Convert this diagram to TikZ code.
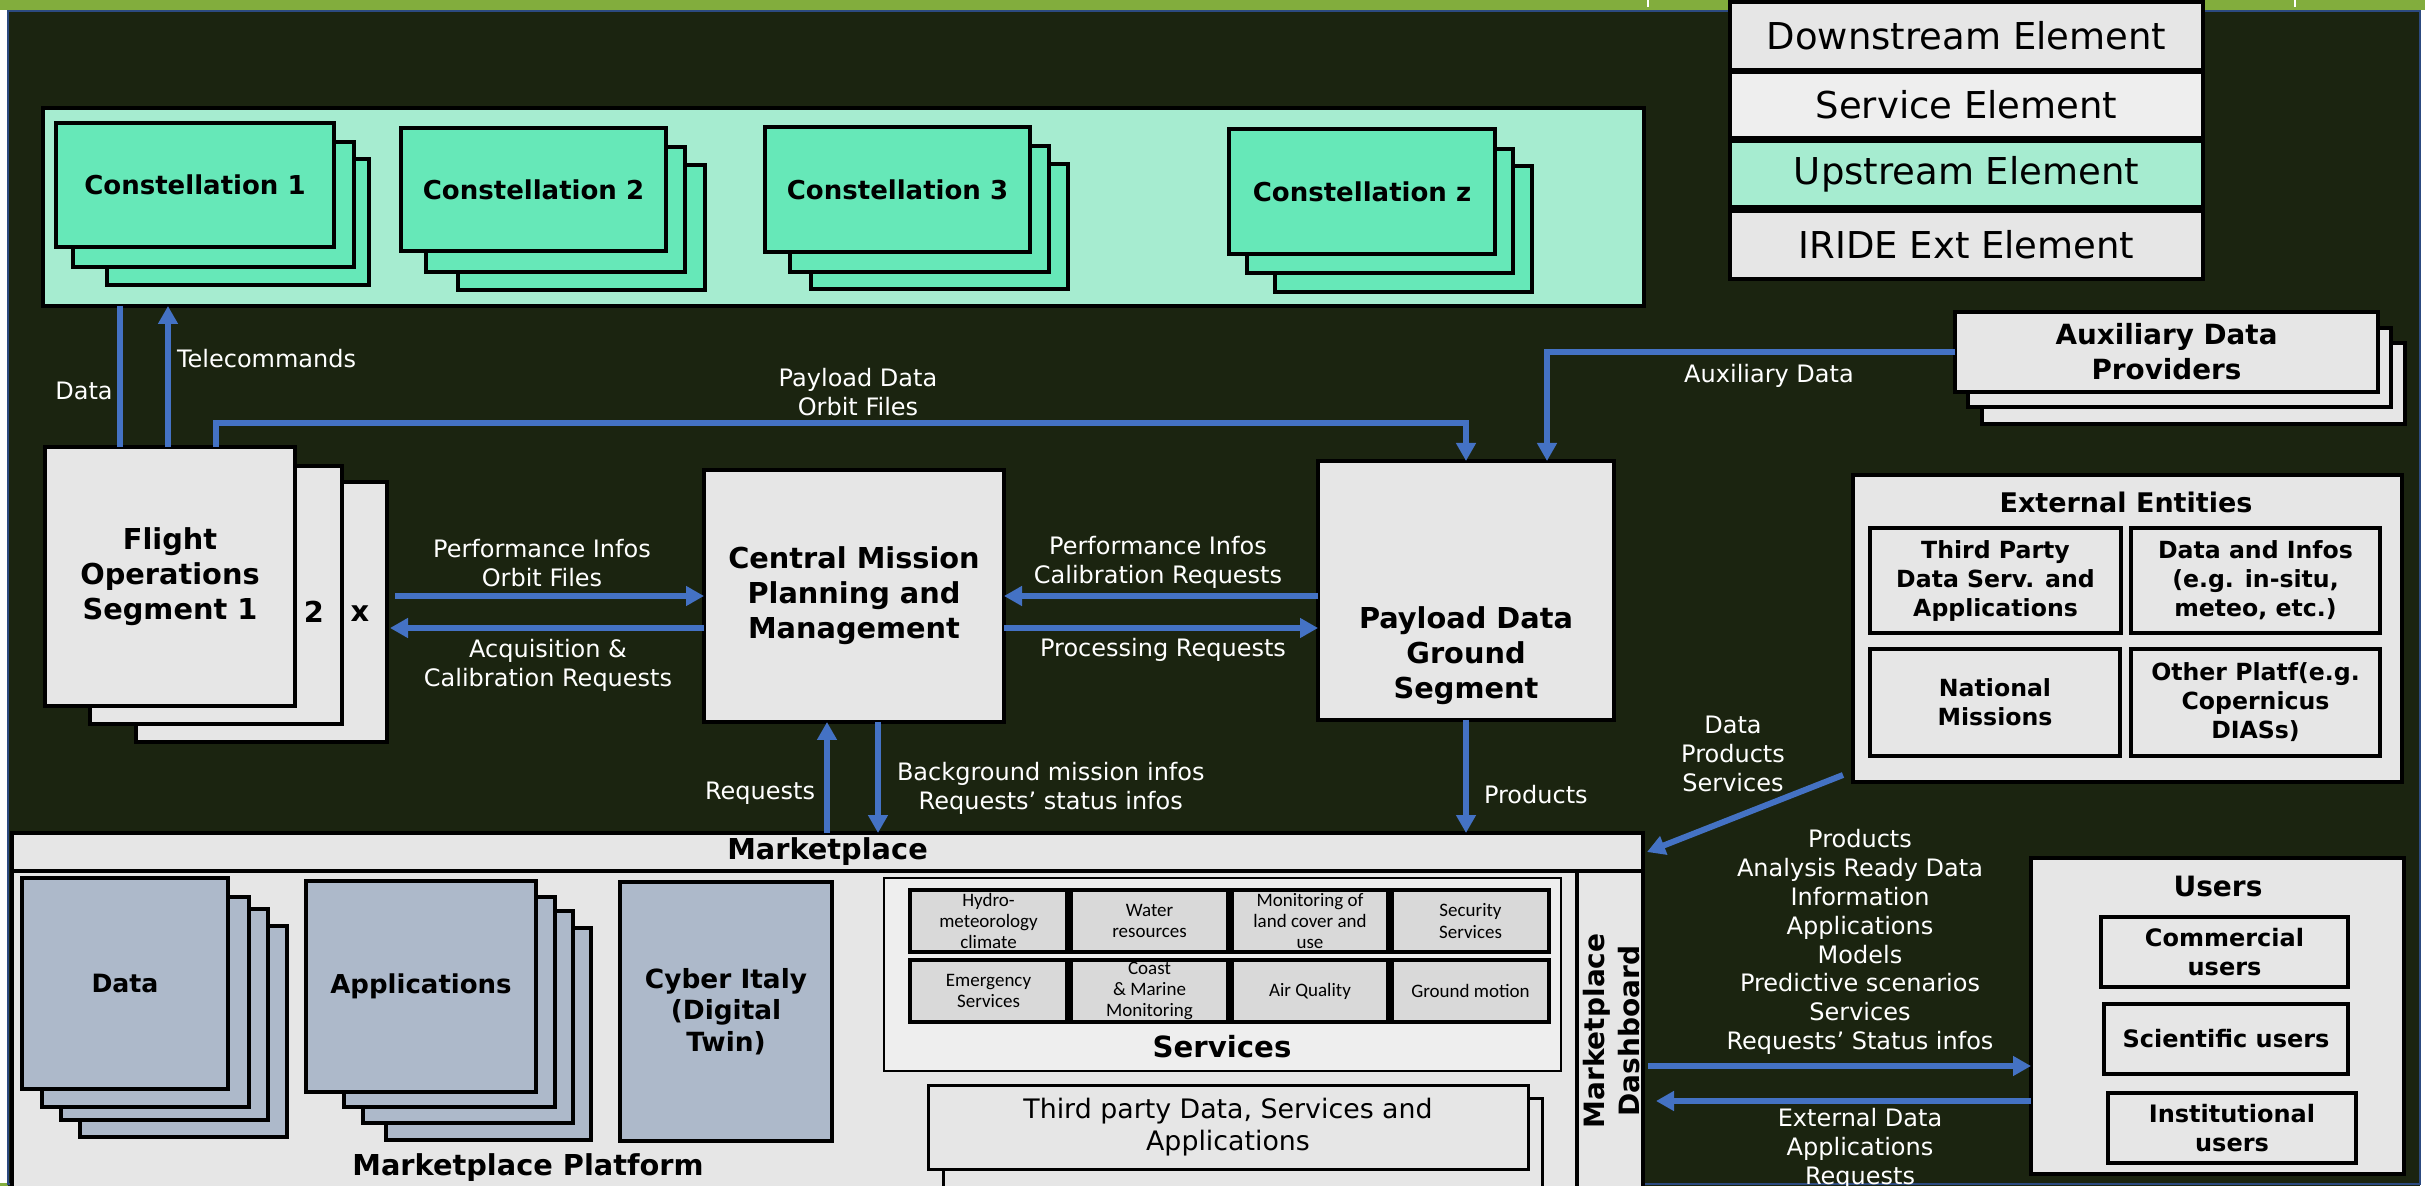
\documentclass[tikz,border=0pt]{standalone}
\usepackage{fontspec}
\setmainfont{DejaVu Sans}
\newfontfamily\cellfont{Carlito}
\usetikzlibrary{arrows.meta,calc}

\definecolor{bgdark}{HTML}{1B2410}
\definecolor{barGreen}{HTML}{82AD3D}
\definecolor{frameBlue}{HTML}{2C4A80}
\definecolor{boxGray}{HTML}{E6E6E6}
\definecolor{svcGray}{HTML}{EEEEEE}
\definecolor{cellGray}{HTML}{D9D9D9}
\definecolor{mintLight}{HTML}{A6ECD0}
\definecolor{mintBox}{HTML}{66E8B8}
\definecolor{slateBox}{HTML}{ADB9CA}
\definecolor{flowBlue}{HTML}{4472C4}

\newcommand\fsz[2]{\fontsize{#1}{#2}\selectfont}
% rectangle node spanning corner (x1,y1) to corner (x2,y2), pixel units
\newcommand\spanbox[6]{\node[#1, minimum width={(#5-#3)*0.5pt}, minimum height={(#6-#4)*0.5pt}] (#2) at ({(#3+#5)/2},{(#4+#6)/2})}

\begin{document}
\begin{tikzpicture}[x=0.5pt,y=-0.5pt,
  every node/.style={inner sep=0pt, outer sep=0pt, align=center},
  boxline/.style={draw=black, line width=1.7pt},
  graybox/.style={boxline, fill=boxGray},
  mintpage/.style={boxline, fill=mintBox, font=\bfseries\fsz{13}{16}},
  slatepage/.style={boxline, fill=slateBox},
  cell/.style={draw=black, line width=1.6pt, fill=cellGray, font=\cellfont\fsz{9.5}{10.6}},
  legendrow/.style={draw=black, line width=2pt, font=\fsz{18.5}{22}},
  boldtxt/.style={font=\bfseries\fsz{14.4}{17.5}},
  flowlabel/.style={text=white, font=\fsz{12}{14.4}},
  flow/.style={draw=flowBlue, line width=3pt, -{Triangle[length=9pt,width=9.5pt]}},
  flowplain/.style={draw=flowBlue, line width=3pt}]

\useasboundingbox (0,0) rectangle (2425,1186);
\clip (0,0) rectangle (2425,1186);

% page background, header bar and frame
\fill[white] (0,0) rectangle (2425,1186);
\fill[bgdark] (8,11) rectangle (2420,1186);
\fill[barGreen] (0,0) rectangle (2425,10);
\fill[barGreen] (0,1183) rectangle (8,1186);
\draw[white, line width=0.8pt] (1648,0) -- (1648,7);
\draw[white, line width=0.8pt] (2295,0) -- (2295,7);
\draw[frameBlue, line width=1.2pt] (8,11) rectangle (2420,1184);

% legend
\spanbox{legendrow, fill=boxGray}{lgDown}{1730}{2}{2203}{70}{Downstream Element};
\spanbox{legendrow, fill=svcGray}{lgServ}{1730}{72}{2203}{138}{Service Element};
\spanbox{legendrow, fill=mintLight}{lgUp}{1730}{141}{2203}{207}{Upstream Element};
\spanbox{legendrow, fill=boxGray}{lgExt}{1730}{211}{2203}{279}{IRIDE Ext Element};

% upstream: constellations
\spanbox{boxline, fill=mintLight, line width=2pt}{constel}{43}{108}{1644}{306}{};
\spanbox{mintpage}{c1c}{107}{159}{369}{285}{};
\spanbox{mintpage}{c1b}{73}{142}{354}{267}{};
\spanbox{mintpage}{c1a}{56}{123}{334}{247}{Constellation 1};
\spanbox{mintpage}{c2c}{458}{165}{705}{290}{};
\spanbox{mintpage}{c2b}{426}{147}{685}{272}{};
\spanbox{mintpage}{c2a}{401}{128}{666}{251}{Constellation 2};
\spanbox{mintpage}{c3c}{811}{164}{1068}{289}{};
\spanbox{mintpage}{c3b}{790}{146}{1049}{272}{};
\spanbox{mintpage}{c3a}{765}{127}{1030}{252}{Constellation 3};
\spanbox{mintpage}{czc}{1275}{166}{1532}{292}{};
\spanbox{mintpage}{czb}{1247}{149}{1513}{273}{};
\spanbox{mintpage}{cza}{1229}{129}{1495}{254}{Constellation z};

% flight operations segments
\spanbox{graybox}{fos3}{136}{482}{387}{742}{};
\spanbox{graybox}{fos2}{90}{466}{342}{724}{};
\spanbox{graybox, boldtxt}{fos1}{45}{447}{295}{706}{Flight\\Operations\\Segment 1};
\node[boldtxt] (fosTwo) at (314,612) {2};
\node[boldtxt] (fosX) at (360,614) {x};

% central mission planning and payload ground segment
\spanbox{graybox, boldtxt}{cmp}{704}{470}{1004}{722}{Central Mission\\Planning and\\Management};
\spanbox{graybox}{pdgs}{1318}{461}{1614}{720}{};
\node[boldtxt] (pdgsText) at (1466,656) {Payload Data\\Ground\\Segment};

% auxiliary data providers
\spanbox{graybox}{auxC}{1982}{343}{2405}{424}{};
\spanbox{graybox}{auxB}{1968}{328}{2391}{407}{};
\spanbox{graybox, font=\bfseries\fsz{13.9}{17.5}}{auxA}{1955}{312}{2378}{392}{Auxiliary Data\\Providers};

% external entities
\spanbox{graybox}{ext}{1853}{475}{2402}{782}{};
\node[font=\bfseries\fsz{13.5}{16}] (extTitle) at (2126,502) {External Entities};
\spanbox{graybox, font=\bfseries\fsz{11.8}{14.5}}{extTL}{1870}{528}{2121}{633}{Third Party\\Data Serv. and\\Applications};
\spanbox{graybox, font=\bfseries\fsz{11.8}{14.5}}{extTR}{2131}{528}{2380}{633}{Data and Infos\\(e.g. in-situ,\\meteo, etc.)};
\spanbox{graybox, font=\bfseries\fsz{11.8}{14.5}}{extBL}{1870}{649}{2120}{756}{National\\Missions};
\spanbox{graybox, font=\bfseries\fsz{11.8}{14.5}}{extBR}{2131}{649}{2380}{756}{Other Platf(e.g.\\Copernicus\\DIASs)};

% users
\spanbox{graybox}{users}{2031}{858}{2404}{1174}{};
\node[font=\bfseries\fsz{14}{17}] (usersTitle) at (2218,886) {Users};
\spanbox{graybox, font=\bfseries\fsz{12}{14.5}}{uCom}{2101}{917}{2348}{987}{Commercial\\users};
\spanbox{graybox, font=\bfseries\fsz{12}{14.5}}{uSci}{2104}{1004}{2348}{1074}{Scientific users};
\spanbox{graybox, font=\bfseries\fsz{12}{14.5}}{uIns}{2108}{1093}{2356}{1163}{Institutional\\users};

% marketplace
\spanbox{graybox, boldtxt}{mkt}{12}{833}{1643}{871}{Marketplace};
\spanbox{graybox}{platform}{12}{871}{1577}{1210}{};
\spanbox{graybox}{dash}{1577}{871}{1643}{1210}{};
\node[rotate=90, font=\bfseries\fsz{14}{17.5}] (dashText) at (1612,1031) {Marketplace\\Dashboard};

% data and applications stacks
\spanbox{slatepage}{data4}{80}{926}{287}{1137}{};
\spanbox{slatepage}{data3}{61}{909}{268}{1120}{};
\spanbox{slatepage}{data2}{42}{897}{249}{1107}{};
\spanbox{slatepage, font=\bfseries\fsz{12.6}{15.5}}{data1}{22}{878}{228}{1089}{Data};
\spanbox{slatepage}{app4}{386}{928}{591}{1140}{};
\spanbox{slatepage}{app3}{363}{911}{573}{1123}{};
\spanbox{slatepage}{app2}{344}{897}{555}{1107}{};
\spanbox{slatepage, font=\bfseries\fsz{13}{15.5}}{app1}{306}{881}{536}{1092}{Applications};
\spanbox{slatepage, font=\bfseries\fsz{13.2}{15.75}}{cyber}{620}{882}{832}{1141}{Cyber Italy\\(Digital\\Twin)};
\node[boldtxt] (platformTitle) at (528,1168) {Marketplace Platform};

% services
\spanbox{boxline, fill=svcGray, line width=1.4pt}{services}{884}{878}{1561}{1071}{};
\node[font=\bfseries\fsz{14.6}{17}] (servicesTitle) at (1222,1047) {Services};
\spanbox{cell}{s11}{910}{890}{1067}{952}{Hydro-\\meteorology\\climate};
\spanbox{cell}{s12}{1071}{890}{1228}{952}{Water\\resources};
\spanbox{cell}{s13}{1232}{890}{1388}{952}{Monitoring of\\land cover and\\use};
\spanbox{cell}{s14}{1392}{890}{1549}{952}{Security\\Services};
\spanbox{cell}{s21}{910}{960}{1067}{1022}{Emergency\\Services};
\spanbox{cell}{s22}{1071}{960}{1228}{1022}{Coast\\\& Marine\\Monitoring};
\spanbox{cell}{s23}{1232}{960}{1388}{1022}{Air Quality};
\spanbox{cell}{s24}{1392}{960}{1549}{1022}{Ground motion};

% third party stack
\spanbox{graybox, line width=1.5pt}{third2}{943}{1098}{1542}{1210}{};
\spanbox{graybox, line width=1.5pt, font=\fsz{13.4}{16}}{third1}{928}{1085}{1528}{1169}{Third party Data, Services and\\Applications};

% connector reference lines
\coordinate (dataX) at (120,0);
\coordinate (tcX) at (168,0);
\coordinate (pdX) at (216,0);
\coordinate (pdY) at (0,423);
\coordinate (auxX) at (1547,0);
\coordinate (rowA) at (0,596);
\coordinate (rowB) at (0,628);
\coordinate (reqX) at (827,0);
\coordinate (bgX) at (878,0);
\coordinate (rowU1) at (0,1066);
\coordinate (rowU2) at (0,1101);

% connectors
\draw[flowplain] (dataX |- constel.south) -- (dataX |- fos1.north);
\draw[flow] (tcX |- fos1.north) -- (tcX |- constel.south);
\draw[flow] (pdX |- fos1.north) -- (pdX |- pdY) -| (pdgs.north);
\draw[flow] (auxA.west) -| (auxX |- pdgs.north);
\draw[flow] ([xshift=4pt]fos3.east |- rowA) -- (cmp.west |- rowA);
\draw[flow] (cmp.west |- rowB) -- ([xshift=1.5pt]fos3.east |- rowB);
\draw[flow] (pdgs.west |- rowA) -- (cmp.east |- rowA);
\draw[flow] (cmp.east |- rowB) -- (pdgs.west |- rowB);
\draw[flow] (reqX |- mkt.north) -- (reqX |- cmp.south);
\draw[flow] (bgX |- cmp.south) -- (bgX |- mkt.north);
\draw[flow] (pdgs.south) -- (pdgs.south |- mkt.north);
\draw[flow] ([xshift=-5pt,yshift=3.5pt]ext.south west) -- ([xshift=2pt,yshift=-9.5pt]mkt.north east);
\draw[flow] ([xshift=2.5pt]dash.east |- rowU1) -- (users.west |- rowU1);
\draw[flow] (users.west |- rowU2) -- ([xshift=6.5pt]dash.east |- rowU2);

% connector labels
\node[flowlabel] (lblData) at (84,391) {Data};
\node[flowlabel, anchor=west] (lblTc) at (177,359) {Telecommands};
\node[flowlabel] (lblPayload) at (858,392) {Payload Data\\Orbit Files};
\node[flowlabel] (lblAux) at (1769,376) {Auxiliary Data};
\node[flowlabel] (lblPerf1) at (542,563) {Performance Infos\\Orbit Files};
\node[flowlabel] (lblAcq) at (548,665) {Acquisition \&\\Calibration Requests};
\node[flowlabel] (lblPerf2) at (1158,562) {Performance Infos\\Calibration Requests};
\node[flowlabel] (lblProc) at (1163,650) {Processing Requests};
\node[flowlabel, anchor=east] (lblReq) at (815,793) {Requests};
\node[flowlabel, anchor=west] (lblBg) at (897,788) {Background mission infos\\Requests’ status infos};
\node[flowlabel, anchor=west] (lblProd) at (1484,795) {Products};
\node[flowlabel] (lblExt) at (1733,754) {Data\\Products\\Services};
\node[flowlabel] (lblOut) at (1860,942) {Products\\Analysis Ready Data\\Information\\Applications\\Models\\Predictive scenarios\\Services\\Requests’ Status infos};
\node[flowlabel] (lblIn) at (1860,1149) {External Data\\Applications\\Requests};

\end{tikzpicture}
\end{document}
